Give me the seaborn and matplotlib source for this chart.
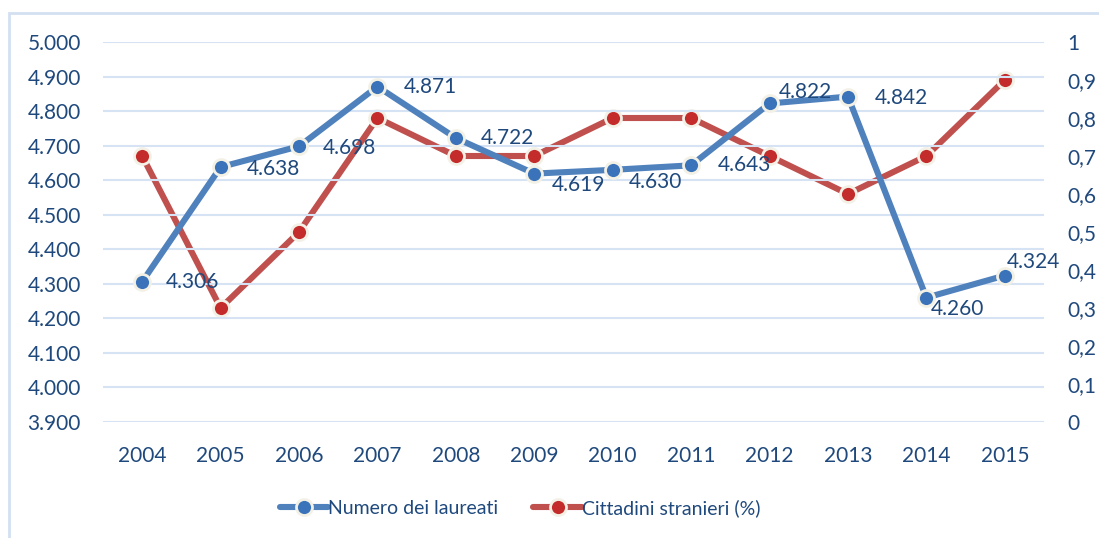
import matplotlib
matplotlib.use("Agg")
import matplotlib.pyplot as plt
import seaborn as sns
import pandas as pd
from matplotlib.ticker import FuncFormatter, MultipleLocator
from matplotlib.patches import Rectangle

years = ["2004", "2005", "2006", "2007", "2008", "2009", "2010", "2011", "2012", "2013", "2014", "2015"]
laureati = [4306, 4638, 4698, 4871, 4722, 4619, 4630, 4643, 4822, 4842, 4260, 4324]
stranieri = [0.7, 0.3, 0.5, 0.8, 0.7, 0.7, 0.8, 0.8, 0.7, 0.6, 0.7, 0.9]
series_names = ["Numero dei laureati", "Cittadini stranieri (%)"]

# label offsets in pixels (dx, dy) relative to each blue marker
label_offsets = [(24, 0), (26, -2), (24, -2), (26, 0), (25, 0), (17, -11), (16, -12),
                 (27, 0), (9, 11), (27, -1), (4, -11), (2, 14)]

sns.set_theme(style="white")
plt.rcParams['font.family'] = ['Lato', 'DejaVu Sans']

TXT = "#1F497D"
BLUE = "#4F81BD"
RED = "#C0504D"
GRID = "#D6E3F4"
EDGE = "#F3F1E6"
FS = 15

fig = plt.figure(figsize=(10.99, 5.38), dpi=100)
W, H = 1099, 538
ax = fig.add_axes([103 / W, 1 - 422 / H, (1044 - 103) / W, (422 - 42) / H])
ax2 = ax.twinx()

df = pd.DataFrame({"x": range(len(years)), "laureati": laureati, "stranieri": stranieri})

sns.lineplot(data=df, x="x", y="laureati", ax=ax, color=BLUE, linewidth=4.4,
             marker="o", markersize=11.5, markerfacecolor="#3A73BA",
             markeredgecolor=EDGE, markeredgewidth=2, zorder=3, label=series_names[0])
sns.lineplot(data=df, x="x", y="stranieri", ax=ax2, color=RED, linewidth=4.4,
             marker="o", markersize=11.5, markerfacecolor="#C42B2B",
             markeredgecolor=EDGE, markeredgewidth=2, zorder=3, label=series_names[1])

# Put blue series on top of red
ax.set_zorder(ax2.get_zorder() + 1)
ax.patch.set_visible(False)

ax.set_xlim(-0.5, len(years) - 0.5)
ax.set_ylim(3900, 5000)
ax2.set_ylim(0, 1.0)
ax.yaxis.set_major_locator(MultipleLocator(100))
ax2.yaxis.set_major_locator(MultipleLocator(0.1))
ax.set_xticks(range(len(years)))
ax.set_xticklabels(years)

def fmt_left(v, pos):
    return f"{v / 1000:.3f}"

def fmt_right(v, pos):
    if abs(v - round(v)) < 1e-9:
        return f"{int(round(v))}"
    return f"{v:.1f}".replace(".", ",")

ax.yaxis.set_major_formatter(FuncFormatter(fmt_left))
ax2.yaxis.set_major_formatter(FuncFormatter(fmt_right))

for a in (ax, ax2):
    for s in a.spines.values():
        s.set_visible(False)
    a.set_xlabel("")
    a.set_ylabel("")
    a.tick_params(length=0, labelsize=FS, labelcolor=TXT)
ax.tick_params(axis="y", pad=16)
ax.tick_params(axis="x", pad=17)
ax2.tick_params(axis="y", pad=16.5)

ax2.grid(False)
ax.grid(False)
for v in range(3900, 5001, 100):
    ax.axhline(v, color=GRID, linewidth=1.5, zorder=0)

for i, (v, off) in enumerate(zip(laureati, label_offsets)):
    ax.annotate(f"{v / 1000:.3f}", (i, v), xytext=(off[0] * 0.72, off[1] * 0.72),
                textcoords="offset points", ha="left", va="center",
                fontsize=FS, color=TXT, zorder=5)

# legend
h1, l1 = ax.get_legend_handles_labels()
h2, l2 = ax2.get_legend_handles_labels()
if ax.get_legend():
    ax.get_legend().remove()
if ax2.get_legend():
    ax2.get_legend().remove()
leg = fig.legend(h1 + h2, l1 + l2, loc="center", bbox_to_anchor=(520 / W, 1 - 508 / H),
                 ncol=2, frameon=False, fontsize=14, handlelength=2.5,
                 handletextpad=0.0, columnspacing=1.8, labelcolor=TXT)

# outer chart frame (left and top visible)
fig.patches.append(Rectangle((8.5 / W, -0.1), 1.2, 1.1 - 13.5 / H,
                             transform=fig.transFigure, fill=False,
                             edgecolor="#D3E0F2", linewidth=2, zorder=0))

fig.savefig("out.png", dpi=100, facecolor="white")
